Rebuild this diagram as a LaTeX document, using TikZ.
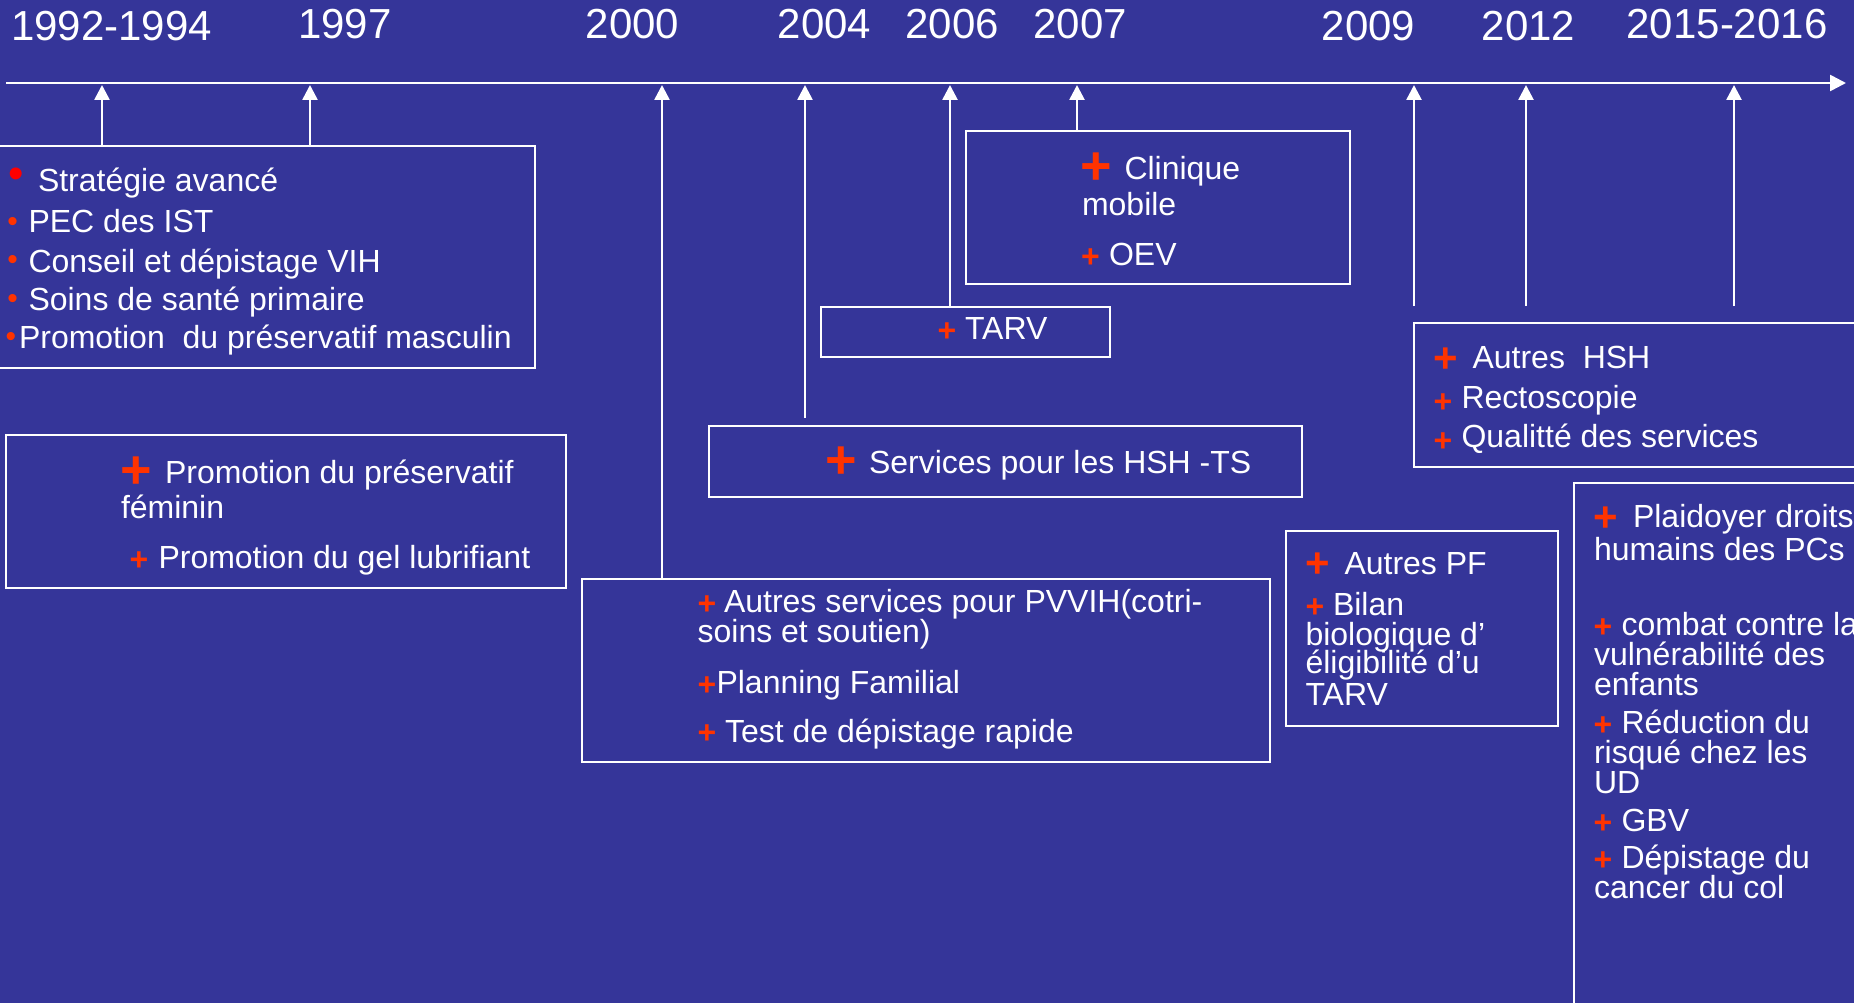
\documentclass[tikz,border=0pt]{standalone}
\usepackage{fontspec}
\setmainfont{Liberation Sans}
\usetikzlibrary{arrows.meta,calc}
\definecolor{bgblue}{RGB}{53,53,153}
\definecolor{plusred}{RGB}{255,51,0}
\definecolor{dotred}{RGB}{255,0,0}
\tikzset{
  every node/.style={inner sep=0pt, outer sep=0pt, text=white},
  box/.style={draw=white, line width=2.6pt, rectangle},
  yearlbl/.style={anchor=base, font=\fontsize{42}{48}\selectfont},
  txt/.style={anchor=base west, font=\fontsize{32}{36}\selectfont},
  plussm/.style={anchor=center, yshift=-1pt, text=plusred, font=\bfseries\fontsize{32}{36}\selectfont},
  plusbig/.style={anchor=center, yshift=-4pt, text=plusred, font=\bfseries\fontsize{54}{60}\selectfont},
  plusmed/.style={anchor=center, yshift=-3pt, text=plusred, font=\bfseries\fontsize{42}{46}\selectfont},
  bul/.style={anchor=center, yshift=-2pt, text=plusred, font=\fontsize{30}{34}\selectfont},
  bulbig/.style={anchor=center, yshift=-4pt, text=dotred, font=\fontsize{44}{48}\selectfont},
  tline/.style={draw=white, line width=2.6pt, -{Triangle[length=16pt,width=16pt]}},
  uparr/.style={draw=white, line width=2.6pt, -{Triangle[length=15pt,width=15pt]}},
}
\begin{document}
\begin{tikzpicture}[x=1pt,y=-1pt]
\useasboundingbox (0,0) rectangle (1854,1003);
\fill[bgblue] (0,0) rectangle (1854,1003);
\clip (0,0) rectangle (1854,1003);

% timeline
\coordinate (tlA) at (6,83);
\coordinate (tlB) at (1846,83);
\draw[tline] (tlA) -- (tlB);

% tick points
\coordinate (y92) at (102,85);
\coordinate (y97) at (310,85);
\coordinate (y00) at (662,85);
\coordinate (y04) at (805,85);
\coordinate (y06) at (950,85);
\coordinate (y07) at (1077,85);
\coordinate (y09) at (1414,85);
\coordinate (y12) at (1526,85);
\coordinate (y15) at (1734,85);

% years
\node[yearlbl] (l92) at (111.5,40.7) {1992-1994};
\node[yearlbl] (l97) at (345,38.3) {1997};
\node[yearlbl] (l00) at (632.5,38.3) {2000};
\node[yearlbl] (l04) at (824.5,38.3) {2004};
\node[yearlbl] (l06) at (952,38.3) {2006};
\node[yearlbl] (l07) at (1080,38.3) {2007};
\node[yearlbl] (l09) at (1368.5,40.7) {2009};
\node[yearlbl] (l12) at (1528.6,40.7) {2012};
\node[yearlbl] (l15) at (1727,38.3) {2015-2016};

% boxes
\node[box, minimum width=540pt, minimum height=222pt] (b1) at (265,257) {};
\node[box, minimum width=560pt, minimum height=153pt] (b2) at (286,511.5) {};
\node[box, minimum width=593pt, minimum height=71pt] (bhsh) at (1005.5,461.5) {};
\node[box, minimum width=688pt, minimum height=183pt] (bpv) at (926,670.5) {};
\node[box, minimum width=289pt, minimum height=50pt] (btarv) at (965.5,332) {};
\node[box, minimum width=384pt, minimum height=153pt] (bclin) at (1158,207.5) {};
\node[box, minimum width=456pt, minimum height=144pt] (bautres) at (1642,395) {};
\node[box, minimum width=272pt, minimum height=195pt] (bpf) at (1422,628.5) {};
\node[box, minimum width=296pt, minimum height=537pt] (bpc) at (1722,751.5) {};

% connectors
\draw[uparr] (b1.north -| y92) -- (y92);
\draw[uparr] (b1.north -| y97) -- (y97);
\draw[uparr] (bpv.north -| y00) -- (y00);
\draw[uparr] ($(bhsh.north -| y04)+(0,-8)$) -- (y04);
\draw[uparr] (btarv.north -| y06) -- (y06);
\draw[uparr] (bclin.north -| y07) -- (y07);
\draw[uparr] ($(bautres.north -| y09)+(0,-17)$) -- (y09);
\draw[uparr] ($(bautres.north -| y12)+(0,-17)$) -- (y12);
\draw[uparr] ($(bautres.north -| y15)+(0,-17)$) -- (y15);

% box 1
\node[bulbig] (b1d1) at (15.8,174) {•};
\node[bul] (b1d2) at (12.7,222) {•};
\node[bul] (b1d3) at (12.7,260) {•};
\node[bul] (b1d4) at (12.7,299) {•};
\node[bul] (b1d5) at (11,337) {•};
\node[txt] (b1t1) at (38,192) {Stratégie avancé};
\node[txt] (b1t2) at (28.5,233) {PEC des IST};
\node[txt] (b1t3) at (28.5,272) {Conseil et dépistage VIH};
\node[txt] (b1t4) at (28.5,310) {Soins de santé primaire};
\node[txt] (b1t5) at (19,348) {Promotion\ \ du préservatif masculin};

% box 2
\node[plusbig] (b2p1) at (136.5,468.5) {+};
\node[txt] (b2t1) at (165,483) {Promotion du préservatif};
\node[txt] (b2t2) at (121,518) {féminin};
\node[plussm] (b2p2) at (139,560) {+};
\node[txt] (b2t3) at (158.5,568) {Promotion du gel lubrifiant};

% services HSH-TS
\node[plusbig] (bhp) at (841,459) {+};
\node[txt] (bht) at (869,473) {Services pour les HSH -TS};

% PVVIH
\node[plussm] (bpvp1) at (707,604) {+};
\node[txt] (bpvt1) at (724,612) {Autres services pour PVVIH(cotri-};
\node[txt] (bpvt2) at (697.6,642) {soins et soutien)};
\node[plussm] (bpvp2) at (707,685) {+};
\node[txt] (bpvt3) at (716.5,693) {Planning Familial};
\node[plussm] (bpvp3) at (707,733) {+};
\node[txt] (bpvt4) at (725,742) {Test de dépistage rapide};

% TARV
\node[plussm] (btp) at (947,331) {+};
\node[txt] (btt) at (965,339) {TARV};

% Clinique
\node[plusbig] (bcp1) at (1096.5,165) {+};
\node[txt] (bct1) at (1124.5,180) {Clinique};
\node[txt] (bct2) at (1082,215) {mobile};
\node[plussm] (bcp2) at (1090.5,257) {+};
\node[txt] (bct3) at (1109,265) {OEV};

% Autres HSH
\node[plusmed] (bap1) at (1445.5,357.5) {+};
\node[txt] (bat1) at (1472.5,368) {Autres\ \ HSH};
\node[plussm] (bap2) at (1443,402) {+};
\node[txt] (bat2) at (1461.5,408) {Rectoscopie};
\node[plussm] (bap3) at (1443,441) {+};
\node[txt] (bat3) at (1461.5,447) {Qualitté des services};

% Autres PF
\node[plusmed] (bfp1) at (1317.5,562.5) {+};
\node[txt] (bft1) at (1344.5,574) {Autres PF};
\node[plussm] (bfp2) at (1315,607) {+};
\node[txt] (bft2) at (1333,615) {Bilan};
\node[txt] (bft3) at (1305.5,645) {biologique d’};
\node[txt] (bft4) at (1305.5,673) {éligibilité d’u};
\node[txt] (bft5) at (1305.5,705) {TARV};

% PC box
\node[plusmed] (bcp1x) at (1606,516) {+};
\node[txt] (bpt1) at (1633,527) {Plaidoyer droits};
\node[txt] (bpt2) at (1594,560) {humains des PCs};
\node[plussm] (bpp2) at (1603,627) {+};
\node[txt] (bpt3) at (1621.5,635) {combat contre la};
\node[txt] (bpt4) at (1594,665) {vulnérabilité des};
\node[txt] (bpt5) at (1594,695) {enfants};
\node[plussm] (bpp3) at (1603,725) {+};
\node[txt] (bpt6) at (1621.5,733) {Réduction du};
\node[txt] (bpt7) at (1594,763) {risqué chez les};
\node[txt] (bpt8) at (1594,793) {UD};
\node[plussm] (bpp4) at (1603,823) {+};
\node[txt] (bpt9) at (1621.5,831) {GBV};
\node[plussm] (bpp5) at (1603,860.5) {+};
\node[txt] (bpt10) at (1621.5,868) {Dépistage du};
\node[txt] (bpt11) at (1594,898) {cancer du col};
\end{tikzpicture}
\end{document}
